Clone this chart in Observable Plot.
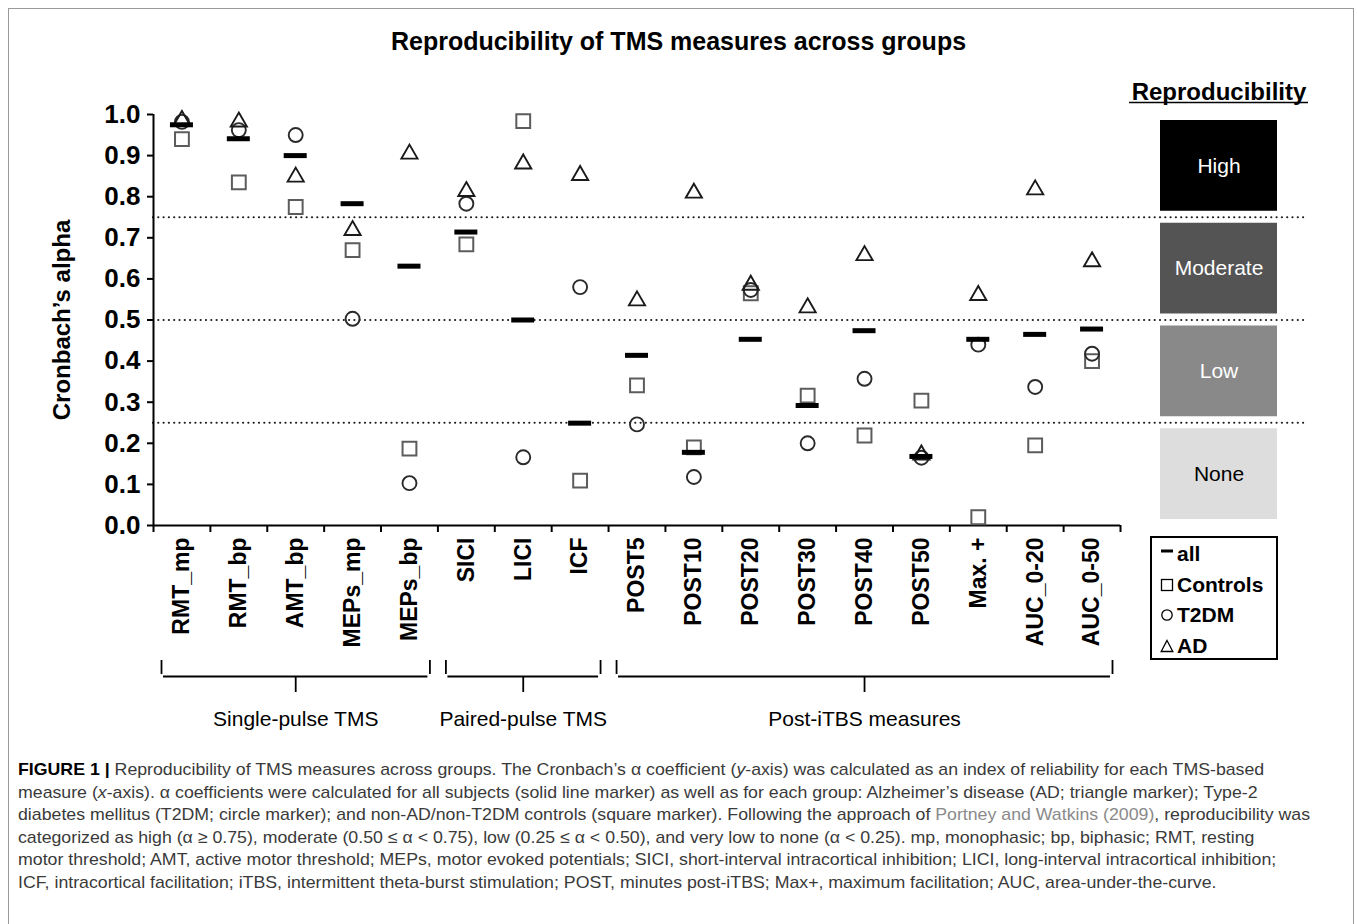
<!DOCTYPE html>
<html>
<head>
<meta charset="utf-8">
<script src="https://cdn.jsdelivr.net/npm/d3@7"></script>
<script src="https://cdn.jsdelivr.net/npm/@observablehq/plot@0.6"></script>
<style>
  html, body { margin: 0; padding: 0; background: #fff; overflow: hidden; }
  body { width: 1357px; height: 924px; position: relative; font-family: "Liberation Sans", Arial, sans-serif; }
  #frame { position: absolute; left: 8px; top: 8px; width: 1344px; height: 1000px; border: 1px solid #9a9a9a; }
  #title { position: absolute; left: 0; top: 26px; width: 1357px; text-align: center; font-weight: bold; font-size: 25px; line-height: 30px; color: #000; }
  #chart { position: absolute; left: 0; top: 60px; }
  #legend { position: absolute; left: 1150px; top: 536px; width: 128px; height: 124px; box-sizing: border-box; border: 2px solid #000; padding-top: 1px; }
  #legend .row { height: 30.5px; line-height: 30.5px; font-weight: bold; font-size: 21px; position: relative; white-space: nowrap; }
  #legend svg { position: absolute; left: 8px; top: 8px; }
  #legend span { position: absolute; left: 25px; }
  #caption { position: absolute; left: 18px; top: 759px; font-size: 17px; line-height: 22.6px; color: #3a3a3a; }
  #caption .ln { white-space: nowrap; transform-origin: 0 50%; }
  #caption b { color: #000; }
  #caption .ref { color: #8a8a8a; }
</style>
</head>
<body>
<div id="frame"></div>
<div id="title">Reproducibility of TMS measures across groups</div>
<div id="chart"></div>
<div id="legend"></div>
<div id="caption"></div>
<script>
// ---------------- data ----------------
const categories = ["RMT_mp","RMT_bp","AMT_bp","MEPs_mp","MEPs_bp","SICI","LICI","ICF","POST5","POST10","POST20","POST30","POST40","POST50","Max. +","AUC_0-20","AUC_0-50"];
const allSubjects = [0.975, 0.941, 0.900, 0.783, 0.631, 0.714, 0.500, 0.249, 0.414, 0.178, 0.453, 0.292, 0.474, 0.168, 0.453, 0.465, 0.478];
const controls    = [0.940, 0.835, 0.775, 0.670, 0.187, 0.684, 0.984, 0.109, 0.341, 0.190, 0.565, 0.316, 0.219, 0.304, 0.020, 0.195, 0.400];
const t2dm        = [0.982, 0.962, 0.950, 0.503, 0.103, 0.783, 0.166, 0.580, 0.246, 0.118, 0.573, 0.200, 0.357, 0.165, 0.440, 0.337, 0.418];
const ad          = [0.986, 0.982, 0.848, 0.718, 0.904, 0.813, 0.880, 0.852, 0.547, 0.809, 0.585, 0.530, 0.657, 0.172, 0.560, 0.817, 0.642];
const yTicks = [0, 0.1, 0.2, 0.3, 0.4, 0.5, 0.6, 0.7, 0.8, 0.9, 1.0];
const thresholds = [0.25, 0.5, 0.75];
const levelNames = ["High", "Moderate", "Low", "None"];
const levelLower = [0.75, 0.5, 0.25, 0];
const levelUpper = [1.0, 0.75, 0.5, 0.25];
const groupNames = ["Single-pulse TMS", "Paired-pulse TMS", "Post-iTBS measures"];
const groupStart = [0, 5, 8];
const groupEnd = [4, 7, 16];
const legendLabels = ["all", "Controls", "T2DM", "AD"];
const yLabel = "Cronbach\u2019s alpha";
const legendTitle = "Reproducibility";

// ---------------- styles / layout ----------------
const levelFill = ["#000000", "#545454", "#898989", "#dddddd"];
const levelText = ["#ffffff", "#ffffff", "#ffffff", "#000000"];
const plotLeft = 153, plotRight = 1120, svgW = 1357;
const unit = (plotRight - plotLeft) / categories.length;
const xAt = px => (categories.length - 0.5) + (px - plotRight) / unit;

const toRows = vals => vals.map((v, i) => ({i, v}));
const catRows = categories.map((name, i) => ({i, name}));
const boundaries = d3.range(-0.5, categories.length, 1);
const levels = levelNames.map((name, k) => ({name, lo: levelLower[k], hi: levelUpper[k], fill: levelFill[k], tc: levelText[k]}));
const groups = groupNames.map((name, k) => ({name, start: groupStart[k], end: groupEnd[k], mid: (groupStart[k] + groupEnd[k]) / 2}));

const chart = Plot.plot({
  width: svgW,
  height: 690,
  marginLeft: plotLeft,
  marginRight: svgW - plotRight,
  marginTop: 54,
  marginBottom: 225,
  x: {type: "linear", domain: [-0.5, categories.length - 0.5], label: null},
  y: {domain: [0, 1], label: null},
  color: {type: "identity"},
  style: {fontFamily: "'Liberation Sans', Arial, sans-serif", fontSize: "24px", fontWeight: "bold", color: "#000", background: "transparent", overflow: "visible"},
  marks: [
    // threshold dotted lines
    Plot.ruleY(thresholds, {x1: -0.5, x2: xAt(1306), stroke: "#1a1a1a", strokeWidth: 2.2, strokeDasharray: "0,5.3", strokeLinecap: "round"}),
    // reproducibility boxes
    Plot.rect(levels, {x1: xAt(1160), x2: xAt(1277), y1: "lo", y2: "hi", fill: "fill", insetTop: 6, insetBottom: 6}),
    Plot.text(levels, {x: xAt(1218.5), y: d => (d.lo + d.hi) / 2, text: "name", fill: "tc", fontSize: 21, fontWeight: "normal"}),
    Plot.text([legendTitle], {x: xAt(1218.5), y: () => 1, text: d => d, dy: -22, fontSize: 24, fontWeight: "bold"}),
    Plot.ruleY([1], {x1: xAt(1129), x2: xAt(1308), dy: -12, strokeWidth: 1.6}),
    // axes
    Plot.axisY({ticks: yTicks, tickFormat: d3.format(".1f"), tickSize: 6, tickPadding: 7, strokeWidth: 2, fontSize: 26, fontWeight: "bold", label: null}),
    Plot.ruleX([-0.5], {strokeWidth: 2}),
    Plot.ruleY([0], {x1: -0.5, x2: categories.length - 0.5, strokeWidth: 2}),
    Plot.axisX({ticks: boundaries, tickFormat: () => "", tickSize: 7, strokeWidth: 2, label: null}),
    Plot.text(catRows, {x: "i", y: () => 0, text: "name", rotate: -90, textAnchor: "end", dy: 12, fontSize: 23, fontWeight: "bold"}),
    Plot.text([yLabel], {x: () => -0.5, y: () => 0.5, text: d => d, rotate: -90, dx: -91, fontSize: 24, fontWeight: "bold"}),
    // group braces
    Plot.ruleY(groups, {x1: d => d.start - 0.5, x2: d => d.end + 0.5, y: () => 0, dy: 151, insetLeft: 10, insetRight: 10, strokeWidth: 1.8}),
    Plot.ruleX(groups, {x: d => d.start - 0.5, y1: () => 0, y2: () => 0, dx: 8, dy: 135, insetBottom: -14, strokeWidth: 1.8}),
    Plot.ruleX(groups, {x: d => d.end + 0.5, y1: () => 0, y2: () => 0, dx: -8, dy: 135, insetBottom: -14, strokeWidth: 1.8}),
    Plot.ruleX(groups, {x: "mid", y1: () => 0, y2: () => 0, dy: 151, insetBottom: -16, strokeWidth: 1.8}),
    Plot.text(groups, {x: "mid", y: () => 0, text: "name", dy: 194, fontSize: 21, fontWeight: "normal"}),
    // data markers
    Plot.dot(toRows(controls), {x: "i", y: "v", symbol: "square", r: 7.8, stroke: "#5c5c5c", strokeWidth: 2, fill: "none"}),
    Plot.dot(toRows(t2dm), {x: "i", y: "v", symbol: "circle", r: 7, stroke: "#2a2a2a", strokeWidth: 1.9, fill: "none"}),
    Plot.dot(toRows(ad), {x: "i", y: "v", symbol: "triangle", r: 6, stroke: "#1a1a1a", strokeWidth: 1.9, fill: "none"}),
    Plot.ruleY(toRows(allSubjects), {x1: "i", x2: "i", y: "v", insetLeft: -11.5, insetRight: -11.5, stroke: "#000", strokeWidth: 5})
  ]
});
document.getElementById("chart").appendChild(chart);

// ---------------- marker legend ----------------
const icons = [
  '<svg width="14" height="14"><line x1="1" x2="13" y1="4" y2="4" stroke="#000" stroke-width="3"/></svg>',
  '<svg width="14" height="14"><rect x="1.5" y="1.5" width="11" height="11" fill="none" stroke="#000" stroke-width="1.3"/></svg>',
  '<svg width="14" height="14"><circle cx="7" cy="7" r="5.2" fill="none" stroke="#000" stroke-width="1.3"/></svg>',
  '<svg width="14" height="14"><path d="M7,1.5 L12.8,12.5 L1.2,12.5 Z" fill="none" stroke="#000" stroke-width="1.3"/></svg>'
];
const legend = document.getElementById("legend");
legendLabels.forEach((lab, k) => {
  const row = document.createElement("div");
  row.className = "row";
  row.innerHTML = icons[k] + "<span>" + lab + "</span>";
  legend.appendChild(row);
});

// ---------------- caption ----------------
const captionLines = [
  "<b>FIGURE 1 |</b> Reproducibility of TMS measures across groups. The Cronbach\u2019s \u03b1 coefficient (<i>y</i>-axis) was calculated as an index of reliability for each TMS-based",
  "measure (<i>x</i>-axis). \u03b1 coefficients were calculated for all subjects (solid line marker) as well as for each group: Alzheimer\u2019s disease (AD; triangle marker); Type-2",
  "diabetes mellitus (T2DM; circle marker); and non-AD/non-T2DM controls (square marker). Following the approach of <span class=\"ref\">Portney and Watkins (2009)</span>, reproducibility was",
  "categorized as high (\u03b1 \u2265 0.75), moderate (0.50 \u2264 \u03b1 &lt; 0.75), low (0.25 \u2264 \u03b1 &lt; 0.50), and very low to none (\u03b1 &lt; 0.25). mp, monophasic; bp, biphasic; RMT, resting",
  "motor threshold; AMT, active motor threshold; MEPs, motor evoked potentials; SICI, short-interval intracortical inhibition; LICI, long-interval intracortical inhibition;",
  "ICF, intracortical facilitation; iTBS, intermittent theta-burst stimulation; POST, minutes post-iTBS; Max+, maximum facilitation; AUC, area-under-the-curve."
];
const cap = document.getElementById("caption");
const spans = captionLines.map(html => {
  const d = document.createElement("div");
  d.className = "ln";
  d.innerHTML = "<span>" + html + "</span>";
  cap.appendChild(d);
  return d;
});
const w3 = spans[2].firstChild.getBoundingClientRect().width;
const s = Math.min(1.05, (1310 - 18) / w3);
spans.forEach(d => { d.style.transform = "scaleX(" + s + ")"; });
</script>
</body>
</html>
